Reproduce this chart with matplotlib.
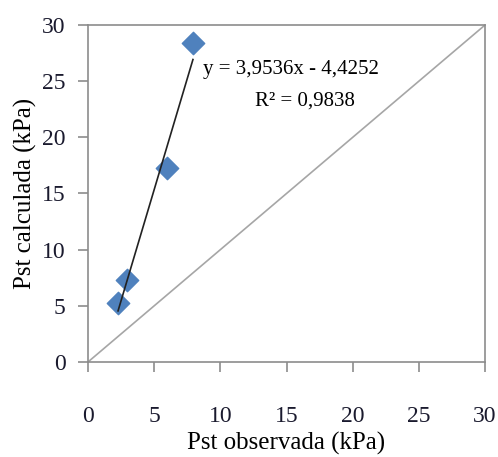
import matplotlib.pyplot as plt
import numpy as np

# data
pst_observada = [2.27, 2.95, 5.97, 7.93]
pst_calculada = [5.25, 7.3, 17.27, 28.4]
slope, intercept = 3.9536, -4.4252
ticks = [0, 5, 10, 15, 20, 25, 30]

plt.rcParams['font.family'] = 'Liberation Serif'

fig = plt.figure(figsize=(4.98, 4.57), dpi=100)
ax = fig.add_axes([0.1767, 0.2079, 0.7973, 0.7374])

# 1:1 line
ax.plot([0, 30], [0, 30], color='#a6a6a6', lw=1.2, zorder=1)

# trend line over the data range
xl = np.array([min(pst_observada), max(pst_observada)])
ax.plot(xl, slope * xl + intercept, color='#222222', lw=1.2, zorder=3)

ax.scatter(pst_observada, pst_calculada, marker='D', s=130, color='#4f81bd', zorder=2)

ax.text(15.3, 26.0, 'y = 3,9536x - 4,4252', fontsize=15, ha='center', va='center')
ax.text(16.4, 23.2, 'R² = 0,9838', fontsize=15, ha='center', va='center')

ax.set_xlim(0, 30)
ax.set_ylim(0, 30)
ax.set_xticks(ticks)
ax.set_yticks(ticks)
for s in ax.spines.values():
    s.set_color('#8c8c8c')
    s.set_linewidth(1.2)
ax.tick_params(axis='both', colors='#8c8c8c', length=7, width=1.2, labelsize=17, labelcolor='#1a1a2e')
ax.tick_params(axis='x', pad=25)
ax.tick_params(axis='y', pad=9)

ax.set_xlabel('Pst observada (kPa)', fontsize=18, labelpad=3)
ax.set_ylabel('Pst calculada (kPa)', fontsize=18, labelpad=4)

plt.savefig('out.png', dpi=100)
